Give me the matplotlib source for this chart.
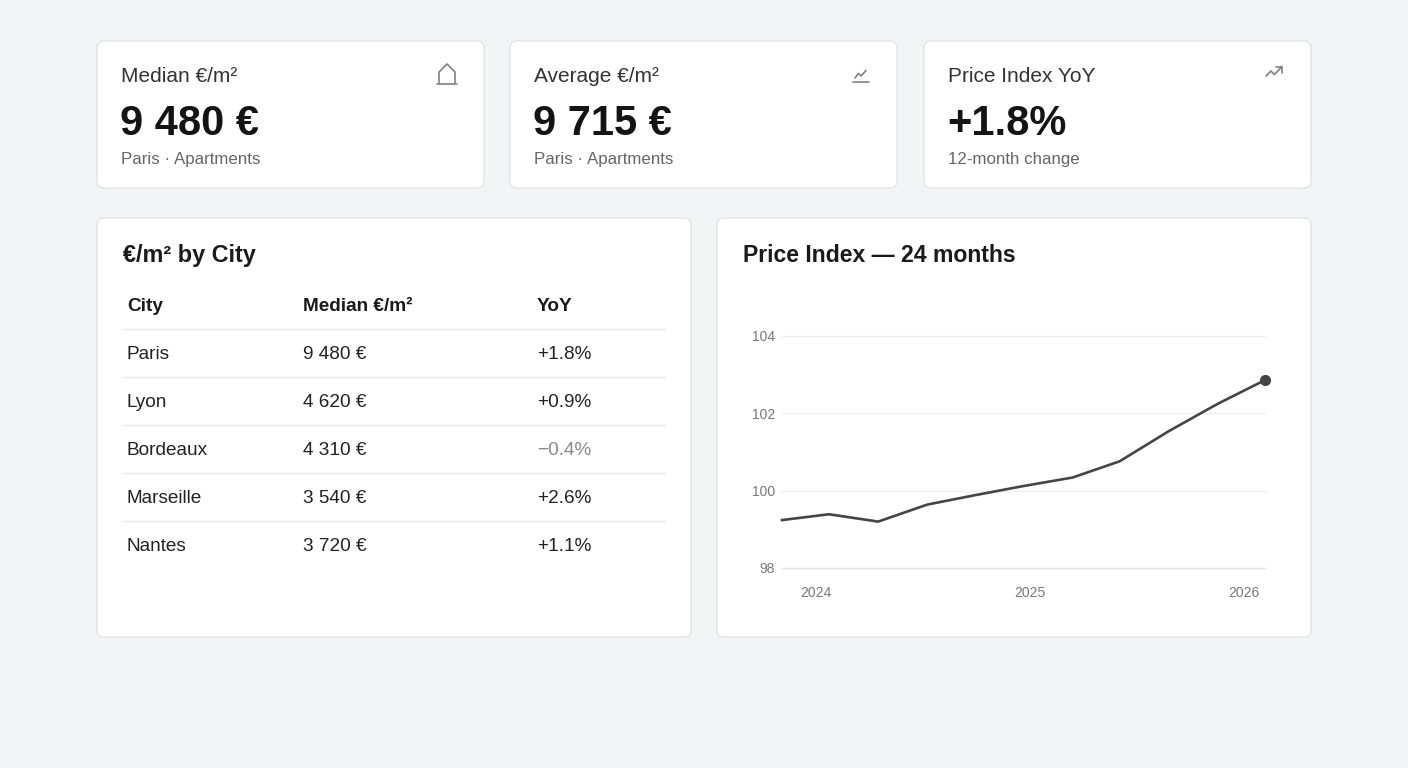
import matplotlib
matplotlib.use("Agg")
import matplotlib.pyplot as plt
from matplotlib.patches import FancyBboxPatch

plt.rcParams['font.family'] = ['Liberation Sans', 'DejaVu Sans']

# donnees
kpi_labels = ["Median €/m²", "Average €/m²", "Price Index YoY"]
kpi_values = ["9 480 €", "9 715 €", "+1.8%"]
kpi_subs = ["Paris · Apartments", "Paris · Apartments", "12-month change"]

cities = ["Paris", "Lyon", "Bordeaux", "Marseille", "Nantes"]
median_price = [9480, 4620, 4310, 3540, 3720]
yoy = [1.8, 0.9, -0.4, 2.6, 1.1]

index_dates = [2023.84, 2024.06, 2024.29, 2024.52, 2024.74, 2024.97,
               2025.20, 2025.42, 2025.65, 2025.88, 2026.10]
index_values = [99.24, 99.39, 99.20, 99.64, 99.88, 100.12,
                100.34, 100.76, 101.54, 102.25, 102.86]
year_ticks = [2024, 2025, 2026]
y_ticks = [98, 100, 102, 104]

W, H = 1408, 768
BG = "#f3f4f6"
BORDER = "#e2e4e8"

fig = plt.figure(figsize=(W / 100, H / 100), dpi=100, facecolor=BG)
base = fig.add_axes([0, 0, 1, 1])
base.set_xlim(0, W)
base.set_ylim(H, 0)
base.axis("off")


def carte(x0, y0, x1, y1):
    p = FancyBboxPatch((x0, y0), x1 - x0, y1 - y0,
                       boxstyle="round,pad=0,rounding_size=7",
                       facecolor="white", edgecolor=BORDER, linewidth=1)
    base.add_patch(p)


def fmt_prix(v):
    return f"{v:,}".replace(",", " ") + " €"


def fmt_pct(v):
    if v < 0:
        return f"\u2212{abs(v):.1f}%"
    return f"+{v:.1f}%"


# cartes KPI
kpi_x = [97, 510, 924]
for i in range(3):
    x0 = kpi_x[i]
    carte(x0, 41, x0 + 387, 188)
    base.text(x0 + 24, 82, kpi_labels[i], fontsize=15, color="#333333", va="baseline")
    base.text(x0 + 23, 135, kpi_values[i], fontsize=30, fontweight="bold",
              color="#141414", va="baseline")
    base.text(x0 + 24, 164, kpi_subs[i], fontsize=12.2, color="#666666", va="baseline")

# icones
ic = dict(color="#808080", lw=1.2, solid_capstyle="round", solid_joinstyle="round")
base.plot([439, 439, 447, 455, 455], [83, 72, 64, 72, 83], **ic)
base.plot([437, 457], [83.5, 83.5], **ic)
base.plot([855, 858.5, 861, 866], [78, 73.5, 76, 70.5], **ic)
base.plot([853, 869], [82, 82], **ic)
base.plot([1266, 1271, 1274.5, 1282], [76, 71, 74.5, 66.5], **ic)
base.plot([1276, 1282, 1282], [66.5, 66.5, 72.5], **ic)

# tableau
carte(97, 218, 691, 637)
base.text(123, 262, "€/m² by City", fontsize=16.8, fontweight="bold", color="#1a1a1a", va="baseline")
col_x = [127, 303, 537]
for x, h in zip(col_x, ["City", "Median €/m²", "YoY"]):
    base.text(x, 311, h, fontsize=13.7, fontweight="bold", color="#1a1a1a", va="baseline")
for i in range(len(cities)):
    yl = 328.5 + 48 * i
    base.plot([122.5, 665], [yl, yl], color="#e6e7ea", lw=1)
    yb = 359 + 48 * i
    base.text(col_x[0], yb, cities[i], fontsize=13.7, color="#222222", va="baseline")
    base.text(col_x[1], yb, fmt_prix(median_price[i]), fontsize=13.7, color="#222222", va="baseline")
    c = "#8a8a8a" if yoy[i] < 0 else "#222222"
    base.text(col_x[2], yb, fmt_pct(yoy[i]), fontsize=13.7, color=c, va="baseline")

# graphique
carte(717, 218, 1311, 637)
base.text(743, 262, "Price Index — 24 months", fontsize=16.6, fontweight="bold",
          color="#1a1a1a", va="baseline")

ax_l, ax_r, ax_t, ax_b = 782, 1265, 336, 568
ax = fig.add_axes([ax_l / W, 1 - ax_b / H, (ax_r - ax_l) / W, (ax_b - ax_t) / H])
ax.set_facecolor("none")
ax.plot(index_dates, index_values, color="#454545", lw=1.9, solid_joinstyle="round", clip_on=False)
ax.plot(index_dates[-1], index_values[-1], "o", color="#454545", markersize=7, clip_on=False)
ax.set_xlim(index_dates[0], index_dates[-1])
ax.set_ylim(98, 104)
ax.set_yticks(y_ticks)
ax.set_xticks(year_ticks)
ax.set_xticklabels([str(y) for y in year_ticks])
for y in y_ticks:
    ax.axhline(y, color="#e4e4e4" if y == 98 else "#efefef", lw=1, zorder=0, clip_on=False)
for s in ax.spines.values():
    s.set_visible(False)
ax.tick_params(axis="both", length=0, labelsize=10, labelcolor="#777777")
ax.tick_params(axis="y", pad=5)
ax.tick_params(axis="x", pad=13)

fig.savefig("out.png", dpi=100, facecolor=BG)
